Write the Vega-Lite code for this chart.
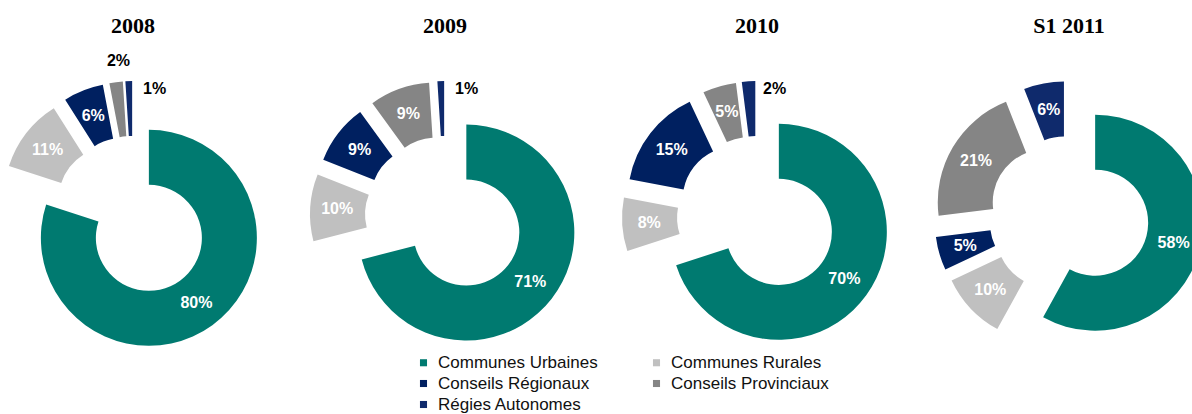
{
  "$schema": "https://vega.github.io/schema/vega-lite/v6.json",
  "background": "white",
  "padding": {"left": 0, "top": 15, "right": 0, "bottom": 0},
  "bounds": "flush",
  "data": {
    "values": [
      {"year": "2008", "cat": "Communes Urbaines", "idx": 1, "value": 0.80},
      {"year": "2008", "cat": "Communes Rurales", "idx": 2, "value": 0.11},
      {"year": "2008", "cat": "Conseils Régionaux", "idx": 3, "value": 0.06},
      {"year": "2008", "cat": "Conseils Provinciaux", "idx": 4, "value": 0.02},
      {"year": "2008", "cat": "Régies Autonomes", "idx": 5, "value": 0.01},
      {"year": "2009", "cat": "Communes Urbaines", "idx": 1, "value": 0.71},
      {"year": "2009", "cat": "Communes Rurales", "idx": 2, "value": 0.10},
      {"year": "2009", "cat": "Conseils Régionaux", "idx": 3, "value": 0.09},
      {"year": "2009", "cat": "Conseils Provinciaux", "idx": 4, "value": 0.09},
      {"year": "2009", "cat": "Régies Autonomes", "idx": 5, "value": 0.01},
      {"year": "2010", "cat": "Communes Urbaines", "idx": 1, "value": 0.70},
      {"year": "2010", "cat": "Communes Rurales", "idx": 2, "value": 0.08},
      {"year": "2010", "cat": "Conseils Régionaux", "idx": 3, "value": 0.15},
      {"year": "2010", "cat": "Conseils Provinciaux", "idx": 4, "value": 0.05},
      {"year": "2010", "cat": "Régies Autonomes", "idx": 5, "value": 0.02},
      {"year": "S1 2011", "cat": "Communes Urbaines", "idx": 1, "value": 0.58},
      {"year": "S1 2011", "cat": "Communes Rurales", "idx": 2, "value": 0.10},
      {"year": "S1 2011", "cat": "Conseils Régionaux", "idx": 3, "value": 0.05},
      {"year": "S1 2011", "cat": "Conseils Provinciaux", "idx": 4, "value": 0.21},
      {"year": "S1 2011", "cat": "Régies Autonomes", "idx": 5, "value": 0.06}
    ]
  },
  "spacing": 46,
  "facet": {
    "column": {
      "field": "year",
      "type": "ordinal",
      "sort": ["2008", "2009", "2010", "S1 2011"],
      "header": {
        "title": null,
        "labelFont": "Liberation Serif",
        "labelFontSize": 22,
        "labelFontWeight": "bold",
        "labelColor": "#000000",
        "labelPadding": 28
      }
    }
  },
  "spec": {
    "width": 266,
    "height": 300,
    "transform": [
      {"stack": "value", "groupby": ["year"], "sort": [{"field": "idx", "order": "ascending"}], "offset": "normalize", "as": ["s0", "s1"]}
    ],
    "layer": [
      {
        "mark": {
          "type": "arc",
          "innerRadius": 53,
          "outerRadius": 108,
          "xOffset": {"expr": "27*sin(PI*(datum.s0+datum.s1))"},
          "yOffset": {"expr": "-27*cos(PI*(datum.s0+datum.s1))"}
        },
        "encoding": {
          "theta": {"field": "s0", "type": "quantitative", "scale": {"domain": [0, 1]}},
          "theta2": {"field": "s1"},
          "color": {
            "field": "cat",
            "type": "nominal",
            "scale": {
              "domain": ["Communes Urbaines", "Communes Rurales", "Conseils Régionaux", "Conseils Provinciaux", "Régies Autonomes"],
              "range": ["#007A70", "#C0C0C0", "#002060", "#858585", "#0F2A6C"]
            },
            "legend": {
              "title": null,
              "orient": "none",
              "legendX": 415,
              "legendY": 288,
              "direction": "horizontal",
              "columns": 2,
              "symbolType": "square",
              "symbolSize": 50,
              "symbolStrokeWidth": 0,
              "labelFont": "Liberation Sans",
              "labelFontSize": 17,
              "labelColor": "#111111",
              "labelLimit": 300,
              "columnPadding": 50,
              "rowPadding": 3,
              "labelOffset": 6
            }
          }
        }
      },
      {
        "transform": [{"filter": "datum.value > 0.025"}],
        "mark": {
          "type": "text",
          "font": "Liberation Sans",
          "fontSize": 16,
          "fontWeight": "bold",
          "fill": "white",
          "radius": 81,
          "theta": {"expr": "PI*(datum.s0+datum.s1)"},
          "xOffset": {"expr": "27*sin(PI*(datum.s0+datum.s1))"},
          "yOffset": {"expr": "-27*cos(PI*(datum.s0+datum.s1))"}
        },
        "encoding": {"text": {"field": "value", "type": "quantitative", "format": ".0%"}}
      },
      {
        "transform": [{"filter": "datum.value <= 0.025 && datum.cat == 'Régies Autonomes'"}],
        "mark": {
          "type": "text",
          "font": "Liberation Sans",
          "fontSize": 16,
          "fontWeight": "bold",
          "fill": "black",
          "align": "left",
          "dx": 14,
          "radius": 100,
          "theta": {"expr": "PI*(datum.s0+datum.s1)"},
          "xOffset": {"expr": "27*sin(PI*(datum.s0+datum.s1))"},
          "yOffset": {"expr": "-27*cos(PI*(datum.s0+datum.s1))"}
        },
        "encoding": {"text": {"field": "value", "type": "quantitative", "format": ".0%"}}
      },
      {
        "transform": [{"filter": "datum.value <= 0.025 && datum.cat != 'Régies Autonomes'"}],
        "mark": {
          "type": "text",
          "font": "Liberation Sans",
          "fontSize": 16,
          "fontWeight": "bold",
          "fill": "black",
          "dx": 5,
          "radius": 129,
          "theta": {"expr": "PI*(datum.s0+datum.s1)"},
          "xOffset": {"expr": "27*sin(PI*(datum.s0+datum.s1))"},
          "yOffset": {"expr": "-27*cos(PI*(datum.s0+datum.s1))"}
        },
        "encoding": {"text": {"field": "value", "type": "quantitative", "format": ".0%"}}
      }
    ]
  },
  "config": {
    "view": {"stroke": null},
    "font": "Liberation Sans"
  }
}
